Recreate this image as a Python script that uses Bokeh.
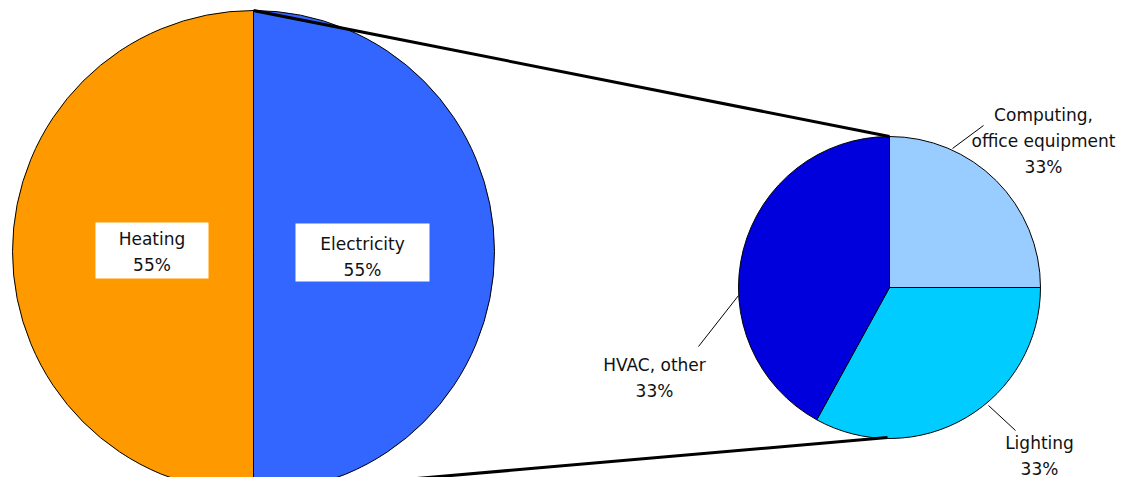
import numpy as np
from bokeh.plotting import figure
from bokeh.models import Range1d
from bokeh.core.properties import value
from bokeh.embed import file_html
from bokeh.resources import INLINE

# ---- data ----
main_labels = ["Heating", "Electricity"]
main_shares = [50, 50]
main_pct = ["55%", "55%"]
main_colors = ["#FF9900", "#3366FF"]

sub_labels = ["Computing,\noffice equipment", "Lighting", "HVAC, other"]
sub_shares = [25, 33, 42]
sub_pct = ["33%", "33%", "33%"]
sub_colors = ["#99CCFF", "#00CCFF", "#0000DD"]

H = 493
def Y(sy):
    return H - sy

p = figure(width=1117, height=477, output_backend="svg", toolbar_location=None,
           x_range=Range1d(0, 1117), y_range=Range1d(16, 493), min_border=0)
p.axis.visible = False
p.grid.visible = False
p.outline_line_color = None
p.background_fill_color = "white"

# big pie
bx, by, br = 253, Y(251), 241
tot = sum(main_shares)
cum = np.cumsum([0] + main_shares)
m_start = [90 + 360 * c / tot for c in cum[:-1]]
m_end = [90 + 360 * c / tot for c in cum[1:]]
p.wedge(x=bx, y=by, radius=br, start_angle=m_start, end_angle=m_end,
        start_angle_units="deg", end_angle_units="deg", direction="anticlock",
        fill_color=main_colors, line_color="black", line_width=1)

# small pie
sx, sy, sr = 889, Y(287), 151
tot2 = sum(sub_shares)
cum2 = np.cumsum([0] + sub_shares)
s_start = [90 - 360 * c / tot2 for c in cum2[:-1]]
s_end = [90 - 360 * c / tot2 for c in cum2[1:]]
p.wedge(x=sx, y=sy, radius=sr, start_angle=s_start, end_angle=s_end,
        start_angle_units="deg", end_angle_units="deg", direction="clock",
        fill_color=sub_colors, line_color="black", line_width=1)

# connector lines
p.segment(x0=[253, 267], y0=[Y(10), Y(491)], x1=[889, 887], y1=[Y(136), Y(437)],
          line_color="black", line_width=3)

# main labels with white boxes
box_x = [151.5, 362]
box_y = [Y(250), Y(252)]
p.rect(x=box_x, y=box_y, width=[113, 134], height=[56, 58], fill_color="white",
       line_color=None)
p.text(x=box_x, y=[Y(251), Y(256)],
       text=[f"{l}\n{v}" for l, v in zip(main_labels, main_pct)],
       text_align="center", text_baseline="middle", text_font=value("DejaVu Sans"),
       text_font_size="17px", text_color="#111111", text_line_height=1.3)

# sub labels
p.text(x=[1043, 1039, 654], y=[Y(140), Y(455), Y(377)],
       text=[f"{l}\n{v}" for l, v in zip(sub_labels, sub_pct)],
       text_align="center", text_baseline="middle", text_font=value("DejaVu Sans"),
       text_font_size="17px", text_color="#111111", text_line_height=1.3)

# leader lines
p.segment(x0=[952, 988, 738], y0=[Y(148), Y(405), Y(295)],
          x1=[983, 1015, 698], y1=[Y(125), Y(430), Y(346)],
          line_color="black", line_width=1)

open("out.html", "w").write(file_html(p, INLINE))
